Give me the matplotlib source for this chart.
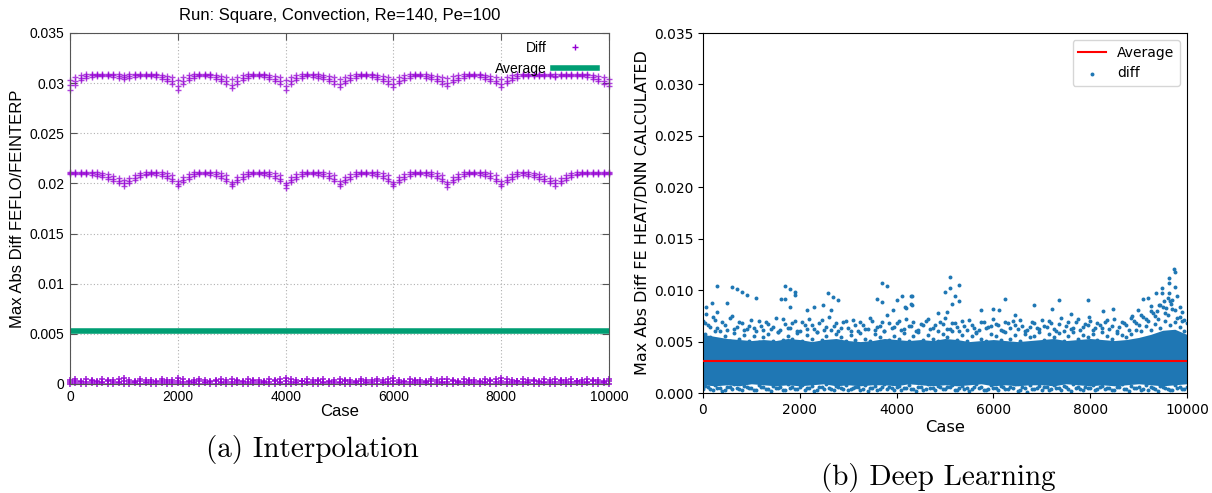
import numpy as np
import matplotlib
matplotlib.use("Agg")
import matplotlib.pyplot as plt
from matplotlib.lines import Line2D
from matplotlib.ticker import FormatStrFormatter

# case index of the plotted columns
cases = np.arange(0, 10001, 100)
cases_half = np.arange(50, 10000, 100)
cases_band = np.arange(0, 10001, 250)

# ---------------- (a) Interpolation, values in units of 1e-3
top_hi = [30.3, 30.6, 30.8, 30.9, 30.9, 30.9, 30.9, 30.9, 30.9, 30.9,
          30.8, 30.9, 30.9, 30.9, 30.9, 30.9, 30.9, 30.8, 30.7, 30.6,
          30.3, 30.6, 30.8, 30.9, 30.9, 30.9, 30.9, 30.8, 30.7, 30.6,
          30.4, 30.6, 30.8, 30.9, 30.9, 30.9, 30.9, 30.8, 30.7, 30.6,
          30.3, 30.6, 30.8, 30.9, 30.9, 30.9, 30.9, 30.8, 30.7, 30.6,
          30.4, 30.6, 30.8, 30.9, 30.9, 30.9, 30.9, 30.8, 30.7, 30.6,
          30.4, 30.6, 30.8, 30.9, 30.9, 30.9, 30.9, 30.8, 30.7, 30.6,
          30.5, 30.7, 30.8, 30.9, 30.9, 30.9, 30.9, 30.8, 30.7, 30.6,
          30.4, 30.6, 30.8, 30.9, 30.9, 30.9, 30.9, 30.9, 30.9, 30.9,
          30.9, 30.9, 30.9, 30.9, 30.9, 30.9, 30.9, 30.8, 30.7, 30.6,
          30.4]
top_mid = [29.8, 30.2, 30.5, 30.7, 30.8, 30.8, 30.8, 30.8, 30.8, 30.7,
           30.6, 30.7, 30.8, 30.8, 30.8, 30.8, 30.8, 30.6, 30.4, 30.2,
           29.7, 30.2, 30.5, 30.7, 30.8, 30.8, 30.8, 30.6, 30.4, 30.2,
           29.8, 30.2, 30.5, 30.7, 30.8, 30.8, 30.8, 30.6, 30.4, 30.2,
           29.7, 30.2, 30.5, 30.7, 30.8, 30.8, 30.7, 30.6, 30.4, 30.2,
           29.9, 30.2, 30.5, 30.7, 30.8, 30.8, 30.8, 30.6, 30.4, 30.2,
           29.9, 30.2, 30.5, 30.7, 30.8, 30.8, 30.7, 30.6, 30.4, 30.2,
           30.0, 30.3, 30.5, 30.7, 30.8, 30.8, 30.8, 30.6, 30.4, 30.2,
           29.9, 30.2, 30.5, 30.7, 30.8, 30.8, 30.8, 30.8, 30.8, 30.8,
           30.7, 30.8, 30.8, 30.8, 30.8, 30.8, 30.8, 30.6, 30.4, 30.2,
           30.0]
top_lo = [29.3, 29.8, 30.3, 30.5, 30.6, 30.7, 30.7, 30.7, 30.6, 30.5,
          30.4, 30.5, 30.6, 30.7, 30.7, 30.7, 30.6, 30.4, 30.2, 29.9,
          29.3, 29.9, 30.3, 30.5, 30.7, 30.7, 30.6, 30.4, 30.2, 29.9,
          29.5, 29.9, 30.3, 30.5, 30.7, 30.7, 30.6, 30.4, 30.2, 29.9,
          29.3, 29.9, 30.3, 30.5, 30.7, 30.6, 30.5, 30.4, 30.2, 29.9,
          29.6, 30.0, 30.3, 30.5, 30.7, 30.7, 30.6, 30.4, 30.2, 29.9,
          29.6, 30.0, 30.3, 30.5, 30.7, 30.7, 30.5, 30.4, 30.2, 29.9,
          29.7, 30.1, 30.3, 30.5, 30.7, 30.7, 30.6, 30.4, 30.2, 30.0,
          29.6, 30.0, 30.3, 30.5, 30.7, 30.7, 30.7, 30.7, 30.7, 30.7,
          30.6, 30.7, 30.7, 30.7, 30.7, 30.7, 30.6, 30.4, 30.2, 29.9,
          29.7]
mid_hi = [21.1, 21.1, 21.1, 21.1, 21.1, 21.1, 21.0, 20.9, 20.7, 20.5,
          20.3, 20.5, 20.8, 21.0, 21.1, 21.1, 21.1, 21.1, 21.0, 20.8,
          20.2, 20.6, 20.9, 21.1, 21.1, 21.1, 21.1, 21.1, 21.0, 20.8,
          20.1, 20.6, 20.9, 21.1, 21.1, 21.1, 21.1, 21.1, 21.0, 20.8,
          20.0, 20.6, 20.9, 21.1, 21.1, 21.1, 21.1, 21.1, 21.0, 20.8,
          20.2, 20.6, 20.9, 21.1, 21.1, 21.1, 21.1, 21.1, 21.0, 20.8,
          20.1, 20.6, 20.9, 21.1, 21.1, 21.1, 21.1, 21.1, 21.0, 20.8,
          20.1, 20.6, 20.9, 21.1, 21.1, 21.1, 21.1, 21.1, 21.0, 20.8,
          20.2, 20.6, 20.9, 21.1, 21.1, 21.1, 21.0, 20.9, 20.7, 20.5,
          20.3, 20.5, 20.8, 21.0, 21.1, 21.1, 21.1, 21.1, 21.1, 21.1,
          21.1]
mid_mid = [21.0, 21.0, 21.0, 21.0, 21.0, 20.9, 20.8, 20.6, 20.4, 20.2,
           20.0, 20.2, 20.5, 20.8, 20.9, 21.0, 21.0, 20.9, 20.7, 20.4,
           19.9, 20.3, 20.6, 20.9, 21.0, 21.0, 21.0, 20.9, 20.7, 20.4,
           19.9, 20.3, 20.6, 20.9, 21.0, 21.0, 21.0, 20.9, 20.7, 20.4,
           19.8, 20.3, 20.6, 20.9, 21.0, 21.0, 21.0, 20.9, 20.7, 20.4,
           19.9, 20.3, 20.6, 20.9, 21.0, 21.0, 21.0, 20.9, 20.7, 20.4,
           19.9, 20.3, 20.6, 20.9, 21.0, 21.0, 21.0, 20.9, 20.7, 20.4,
           19.9, 20.3, 20.6, 20.9, 21.0, 21.0, 21.0, 20.9, 20.7, 20.4,
           19.9, 20.3, 20.6, 20.9, 21.0, 20.9, 20.8, 20.6, 20.4, 20.2,
           20.0, 20.2, 20.5, 20.8, 20.9, 21.0, 21.0, 21.0, 21.0, 21.0,
           21.0]
mid_lo = [20.9, 20.9, 20.9, 20.9, 20.8, 20.7, 20.6, 20.4, 20.2, 20.0,
          19.7, 20.0, 20.3, 20.6, 20.8, 20.9, 20.8, 20.7, 20.5, 20.2,
          19.7, 20.1, 20.4, 20.7, 20.9, 20.9, 20.8, 20.7, 20.5, 20.2,
          19.7, 20.1, 20.4, 20.7, 20.9, 20.9, 20.8, 20.7, 20.5, 20.2,
          19.5, 20.1, 20.4, 20.7, 20.9, 20.9, 20.8, 20.7, 20.5, 20.2,
          19.7, 20.1, 20.4, 20.7, 20.9, 20.9, 20.8, 20.7, 20.5, 20.2,
          19.7, 20.1, 20.4, 20.7, 20.9, 20.9, 20.8, 20.7, 20.5, 20.2,
          19.6, 20.1, 20.4, 20.7, 20.9, 20.9, 20.8, 20.7, 20.5, 20.2,
          19.7, 20.1, 20.4, 20.7, 20.8, 20.7, 20.6, 20.4, 20.2, 20.0,
          19.7, 20.0, 20.3, 20.6, 20.8, 20.9, 20.9, 20.9, 20.9, 20.9,
          20.9]
bot_hi = [0.4, 0.5, 0.3, 0.5, 0.4, 0.3, 0.5, 0.4, 0.4, 0.5,
          0.6, 0.4, 0.3, 0.5, 0.4, 0.4, 0.3, 0.5, 0.4, 0.4,
          0.6, 0.5, 0.3, 0.4, 0.5, 0.4, 0.3, 0.4, 0.5, 0.4,
          0.5, 0.4, 0.3, 0.5, 0.4, 0.4, 0.3, 0.5, 0.4, 0.5,
          0.6, 0.5, 0.4, 0.3, 0.5, 0.4, 0.4, 0.5, 0.3, 0.4,
          0.5, 0.4, 0.4, 0.3, 0.5, 0.4, 0.4, 0.5, 0.4, 0.5,
          0.6, 0.4, 0.3, 0.5, 0.4, 0.4, 0.3, 0.5, 0.4, 0.5,
          0.5, 0.4, 0.3, 0.5, 0.4, 0.4, 0.3, 0.5, 0.4, 0.5,
          0.6, 0.5, 0.4, 0.3, 0.5, 0.4, 0.4, 0.3, 0.5, 0.4,
          0.5, 0.4, 0.4, 0.5, 0.3, 0.4, 0.5, 0.4, 0.4, 0.3,
          0.5]
bot_mid = [0.2, 0.3, 0.2, 0.2, 0.3, 0.2, 0.2, 0.3, 0.2, 0.2,
           0.3, 0.2, 0.2, 0.3, 0.2, 0.2, 0.2, 0.3, 0.2, 0.2,
           0.3, 0.2, 0.2, 0.2, 0.3, 0.2, 0.2, 0.3, 0.2, 0.2,
           0.2, 0.3, 0.2, 0.2, 0.3, 0.2, 0.2, 0.2, 0.3, 0.2,
           0.3, 0.2, 0.2, 0.3, 0.2, 0.2, 0.3, 0.2, 0.2, 0.2,
           0.2, 0.3, 0.2, 0.2, 0.3, 0.2, 0.2, 0.3, 0.2, 0.2,
           0.3, 0.2, 0.2, 0.2, 0.3, 0.2, 0.2, 0.3, 0.2, 0.2,
           0.2, 0.3, 0.2, 0.2, 0.3, 0.2, 0.2, 0.2, 0.3, 0.2,
           0.3, 0.2, 0.2, 0.3, 0.2, 0.2, 0.3, 0.2, 0.2, 0.2,
           0.2, 0.3, 0.2, 0.2, 0.3, 0.2, 0.2, 0.3, 0.2, 0.2,
           0.3]
bot_lo = [0.0, 0.1, 0.0, 0.0, 0.1, 0.0, 0.1, 0.0, 0.0, 0.1,
          0.0, 0.0, 0.1, 0.0, 0.1, 0.0, 0.0, 0.1, 0.0, 0.0,
          0.1, 0.0, 0.0, 0.1, 0.0, 0.1, 0.0, 0.0, 0.1, 0.0,
          0.0, 0.1, 0.0, 0.0, 0.1, 0.0, 0.1, 0.0, 0.0, 0.1,
          0.0, 0.0, 0.1, 0.0, 0.1, 0.0, 0.0, 0.1, 0.0, 0.0,
          0.1, 0.0, 0.0, 0.1, 0.0, 0.1, 0.0, 0.0, 0.1, 0.0,
          0.0, 0.1, 0.0, 0.0, 0.1, 0.0, 0.1, 0.0, 0.0, 0.1,
          0.0, 0.0, 0.1, 0.0, 0.1, 0.0, 0.0, 0.1, 0.0, 0.0,
          0.1, 0.0, 0.0, 0.1, 0.0, 0.1, 0.0, 0.0, 0.1, 0.0,
          0.0, 0.1, 0.0, 0.0, 0.1, 0.0, 0.1, 0.0, 0.0, 0.1,
          0.0]
avg_interp = 0.0053

# ---------------- (b) Deep Learning, values in units of 1e-3
band_hi = [5.7, 5.5, 5.3, 5.2, 5.1, 5.2, 5.1, 5.3, 5.2, 5.0,
           5.2, 5.3, 5.1, 5.0, 5.1, 5.3, 5.2, 5.1, 5.2, 5.1,
           5.3, 5.2, 5.0, 5.1, 5.2, 5.1, 5.0, 5.1, 5.2, 5.3,
           5.1, 5.2, 5.3, 5.2, 5.1, 5.2, 5.4, 5.7, 6.1, 6.2,
           5.7]
band_lo = [0.8, 0.7, 0.8, 0.7, 0.9, 0.8, 0.7, 0.8, 0.7, 0.8,
           0.9, 0.7, 0.8, 0.7, 0.8, 0.8, 0.7, 0.9, 0.8, 0.7,
           0.8, 0.7, 0.8, 0.9, 0.7, 0.8, 0.7, 0.8, 0.8, 0.7,
           0.9, 0.8, 0.7, 0.8, 0.7, 0.8, 0.9, 0.8, 0.7, 0.8,
           0.9]
edge_a = [7.0, 6.6, 7.4, 6.3, 6.9, 6.1, 7.5, 6.4, 6.8, 6.2,
          7.1, 6.0, 6.5, 6.9, 6.2, 7.3, 6.1, 6.7, 6.3, 7.0,
          6.0, 6.6, 7.2, 6.2, 6.8, 6.1, 7.4, 6.5, 6.0, 6.9,
          6.3, 7.1, 6.0, 6.6, 6.2, 7.0, 6.4, 6.9, 7.6, 6.3,
          6.8, 6.1, 7.2, 6.5, 6.0, 6.7, 7.0, 6.2, 6.6, 6.9,
          7.3, 6.2, 6.8, 6.0, 6.5, 7.1, 6.3, 6.1, 6.9, 6.4,
          7.2, 6.6, 6.0, 6.8, 7.0, 6.2, 6.5, 6.1, 6.9, 6.3,
          7.1, 6.4, 6.8, 6.0, 7.3, 6.5, 6.2, 6.9, 6.1, 6.7,
          7.0, 6.3, 6.6, 6.9, 6.2, 7.2, 6.4, 6.8, 6.1, 7.0,
          6.6, 7.4, 7.0, 7.8, 7.2, 8.4, 7.6, 8.2, 7.3, 7.0,
          6.8]
edge_b = [5.7, 5.4, 6.0, 5.2, 5.5, 5.1, 5.8, 5.3, 5.6, 5.1,
          5.5, 5.0, 5.4, 5.7, 5.1, 5.9, 5.2, 5.5, 5.3, 5.8,
          5.1, 5.6, 5.3, 5.9, 5.2, 5.5, 5.0, 5.7, 5.4, 5.1,
          5.6, 5.2, 5.8, 5.3, 5.1, 5.7, 5.4, 6.0, 5.2, 5.5,
          5.3, 5.8, 5.1, 5.5, 5.9, 5.2, 5.6, 5.3, 5.1, 5.7,
          5.4, 6.0, 5.2, 5.6, 5.1, 5.5, 5.8, 5.3, 5.1, 5.7,
          5.5, 5.2, 5.9, 5.3, 5.6, 5.1, 5.7, 5.4, 5.5, 5.9,
          5.2, 5.7, 5.4, 5.8, 5.1, 5.5, 5.9, 5.3, 5.6, 5.4,
          5.7, 5.2, 5.9, 5.5, 5.3, 5.8, 5.6, 5.4, 5.7, 6.1,
          6.0, 6.5, 6.1, 6.7, 6.3, 7.0, 6.6, 6.9, 6.4, 6.0]
edge_c = [6.8, 6.4, 7.1, 6.0, 6.6, 7.3, 6.2, 6.9, 6.1, 6.5,
          6.3, 7.0, 6.1, 6.7, 6.4, 5.9, 7.2, 6.3, 6.8, 6.0,
          6.9, 6.2, 6.6, 5.9, 7.1, 6.4, 6.1, 6.8, 6.3, 7.0,
          6.0, 6.6, 6.9, 6.2, 7.3, 6.1, 6.5, 6.0, 6.8, 6.4,
          7.0, 6.2, 6.5, 6.9, 6.1, 6.6, 7.2, 6.3, 6.0, 6.7,
          6.2, 6.8, 6.4, 7.0, 6.1, 6.6, 5.9, 6.9, 6.3, 6.5,
          6.7, 6.1, 6.9, 6.3, 6.6, 7.1, 6.0, 6.4, 6.8, 6.2,
          6.5, 7.0, 6.2, 6.7, 6.0, 6.9, 6.3, 7.2, 6.4, 6.6,
          6.1, 6.8, 6.3, 7.1, 6.5, 6.0, 6.9, 6.6, 7.3, 6.8,
          7.6, 7.2, 8.0, 7.5, 8.6, 7.8, 8.9, 8.1, 7.4, 7.1]
low_a = [0.4, 0.6, 0.3, 0.5, 0.2, 0.6, 0.4, 0.5, 0.3, 0.6,
         0.5, 0.3, 0.6, 0.4, 0.2, 0.5, 0.6, 0.3, 0.5, 0.4,
         0.6, 0.3, 0.5, 0.2, 0.6, 0.4, 0.5, 0.3, 0.6, 0.4,
         0.3, 0.5, 0.6, 0.4, 0.2, 0.5, 0.3, 0.6, 0.4, 0.5,
         0.6, 0.3, 0.5, 0.4, 0.2, 0.6, 0.4, 0.5, 0.3, 0.6,
         0.4, 0.6, 0.3, 0.5, 0.4, 0.2, 0.6, 0.5, 0.3, 0.4,
         0.5, 0.3, 0.6, 0.4, 0.5, 0.2, 0.6, 0.1, 0.4, 0.5,
         0.3, 0.6, 0.4, 0.5, 0.3, 0.6, 0.2, 0.5, 0.4, 0.6,
         0.5, 0.3, 0.6, 0.4, 0.5, 0.3, 0.6, 0.4, 0.2, 0.5,
         0.6, 0.4, 0.3, 0.5, 0.2, 0.6, 0.4, 0.3, 0.5, 0.4,
         0.6]
low_b = [0.7, 0.4, 0.8, 0.5, 0.3, 0.6, 0.9, 0.4, 0.7, 0.5,
         0.3, 0.8, 0.6, 0.4, 0.7, 0.5, 0.3, 0.9, 0.6, 0.4,
         0.8, 0.5, 0.7, 0.3, 0.6, 0.9, 0.4, 0.7, 0.5, 0.8,
         0.4, 0.6, 0.3, 0.8, 0.5, 0.7, 0.4, 0.9, 0.6, 0.3,
         0.7, 0.5, 0.8, 0.4, 0.6, 0.3, 0.9, 0.5, 0.7, 0.4,
         0.6, 0.8, 0.3, 0.7, 0.5, 0.4, 0.9, 0.6, 0.3, 0.8,
         0.5, 0.7, 0.4, 0.6, 0.9, 0.3, 0.5, 0.8, 0.4, 0.7,
         0.6, 0.3, 0.8, 0.5, 0.7, 0.4, 0.9, 0.6, 0.3, 0.5,
         0.8, 0.4, 0.7, 0.5, 0.3, 0.6, 0.9, 0.4, 0.7, 0.5,
         0.3, 0.8, 0.6, 0.4, 0.7, 0.5, 0.3, 0.8, 0.6, 0.4]
out_case = [296, 593, 696, 799, 903, 1095, 193, 489, 62, 62,
            300, 1701, 1797, 1894, 1894, 1605, 1701, 1797, 2300, 2589,
            2692, 2796, 2486, 2638, 2142, 3589, 3692, 3692, 3795, 4002,
            4105, 4297, 4297, 3933, 4173, 4311, 4311, 4194, 5000, 5103,
            5103, 5296, 5206, 5296, 5138, 5035, 4849, 5743, 5998, 6122,
            6246, 6446, 6845, 7204, 7361, 7597, 7960, 7980, 8270, 8477,
            8857, 8994, 9084, 9200, 9359, 9477, 9477, 9634, 9634, 9634,
            9731, 9752, 9758, 9787, 9420, 9520, 9560, 9680, 9700, 9850,
            9900, 9600, 9380, 9250]
out_val = [10.4, 10.28, 10.08, 9.82, 9.5, 9.2, 8.8, 8.78, 8.4, 7.7,
           7.9, 10.4, 10.1, 9.8, 9.5, 9.1, 9.1, 8.33, 8.33, 9.7,
           9.37, 9.0, 8.55, 8.1, 8.1, 9.1, 8.88, 10.73, 10.4, 9.04,
           9.4, 9.4, 8.65, 8.1, 8.33, 9.4, 8.6, 8.3, 9.8, 11.25,
           10.2, 10.5, 9.4, 8.9, 8.7, 7.9, 7.8, 8.1, 8.2, 8.1,
           9.1, 7.6, 8.52, 8.2, 9.0, 7.7, 9.0, 7.4, 8.0, 8.2,
           7.5, 8.1, 9.1, 9.2, 9.7, 10.2, 9.7, 11.15, 10.66, 9.7,
           12.03, 11.8, 10.34, 9.4, 8.6, 8.9, 8.3, 8.7, 9.0, 8.4,
           7.9, 9.2, 8.0, 8.5]
avg_dnn = 0.00315

PURPLE = '#9400d3'
GREEN = '#009e73'
BLUE = '#1f77b4'
GP_FONT = 'Liberation Sans'

fig = plt.figure(figsize=(12.12, 4.93), dpi=100)

# ---- left panel, gnuplot look
ax1 = fig.add_axes([0.0578, 0.2211, 0.4447, 0.7120])
for vals in (top_hi, top_mid, top_lo, mid_hi, mid_mid, mid_lo):
    ax1.plot(cases, np.array(vals) * 1e-3, linestyle='none', marker='+',
             ms=4, mew=1.0, color=PURPLE, alpha=0.75, clip_on=False)
for vals in (bot_hi, bot_mid, bot_lo):
    ax1.plot(cases, np.array(vals) * 1e-3, linestyle='none', marker='+',
             ms=5, mew=1.2, color=PURPLE, alpha=0.85, clip_on=False)
ax1.axhline(avg_interp, color=GREEN, lw=4)

ax1.set_xlim(0, 10000)
ax1.set_ylim(0, 0.035)
ax1.set_xticks(np.arange(0, 10001, 2000))
ax1.set_yticks(np.arange(0, 0.0351, 0.005))
ax1.yaxis.set_major_formatter(FormatStrFormatter('%g'))
ax1.tick_params(direction='in', top=True, right=True, length=5,
                color='#555555', labelsize=10, labelfontfamily=GP_FONT, pad=4)
ax1.grid(True, linestyle=(0, (1, 2)), color='#b0b0b0', lw=0.8)
for sp in ax1.spines.values():
    sp.set_color('#555555')
ax1.set_title('Run: Square, Convection, Re=140, Pe=100', family=GP_FONT,
              fontsize=12, pad=9)
ax1.set_xlabel('Case', family=GP_FONT, fontsize=12, labelpad=0)
ax1.set_ylabel('Max Abs Diff FEFLO/FEINTERP', family=GP_FONT, fontsize=12,
               labelpad=3)
gp_handles = [Line2D([], [], ls='none', marker='+', ms=4, mew=1.0, color=PURPLE),
              Line2D([], [], color=GREEN, lw=4)]
ax1.legend(gp_handles, ['Diff', 'Average'], loc='upper right', frameon=False,
           markerfirst=False, prop={'family': GP_FONT, 'size': 10},
           handlelength=3.1, handletextpad=0.5, labelspacing=0.5,
           bbox_to_anchor=(1.0, 1.012))

# ---- right panel, matplotlib scatter
ax2 = fig.add_axes([0.580, 0.2028, 0.3993, 0.7302])
ax2.axhline(avg_dnn, color='red', lw=1.5, label='Average', zorder=4)
ax2.fill_between(cases_band, np.array(band_lo) * 1e-3, np.array(band_hi) * 1e-3,
                 color=BLUE, lw=0)
xs = np.concatenate([cases, cases_half, cases_half, cases, cases_half, out_case])
ys = np.concatenate([edge_a, edge_b, edge_c, low_a, low_b, out_val]) * 1e-3
ax2.scatter(xs, ys, s=8, color=BLUE, lw=0, label='diff')
ax2.set_xlim(0, 10000)
ax2.set_ylim(0, 0.035)
ax2.set_xticks(np.arange(0, 10001, 2000))
ax2.set_yticks(np.arange(0, 0.0351, 0.005))
ax2.yaxis.set_major_formatter(FormatStrFormatter('%.3f'))
ax2.tick_params(labelsize=10)
ax2.set_xlabel('Case', fontsize=11.7, labelpad=2)
ax2.set_ylabel('Max Abs Diff FE HEAT/DNN CALCULATED', fontsize=11.5,
               labelpad=3)
ax2.legend(loc='upper right', fontsize=10)

# ---- sub-captions
fig.text(312 / 1212, 1 - 450 / 493, '(a) Interpolation', family='cmr10',
         fontsize=21, ha='center', va='center')
fig.text(938 / 1212, 1 - 478 / 493, '(b) Deep Learning', family='cmr10',
         fontsize=21, ha='center', va='center')

fig.savefig('out.png', dpi=100)
